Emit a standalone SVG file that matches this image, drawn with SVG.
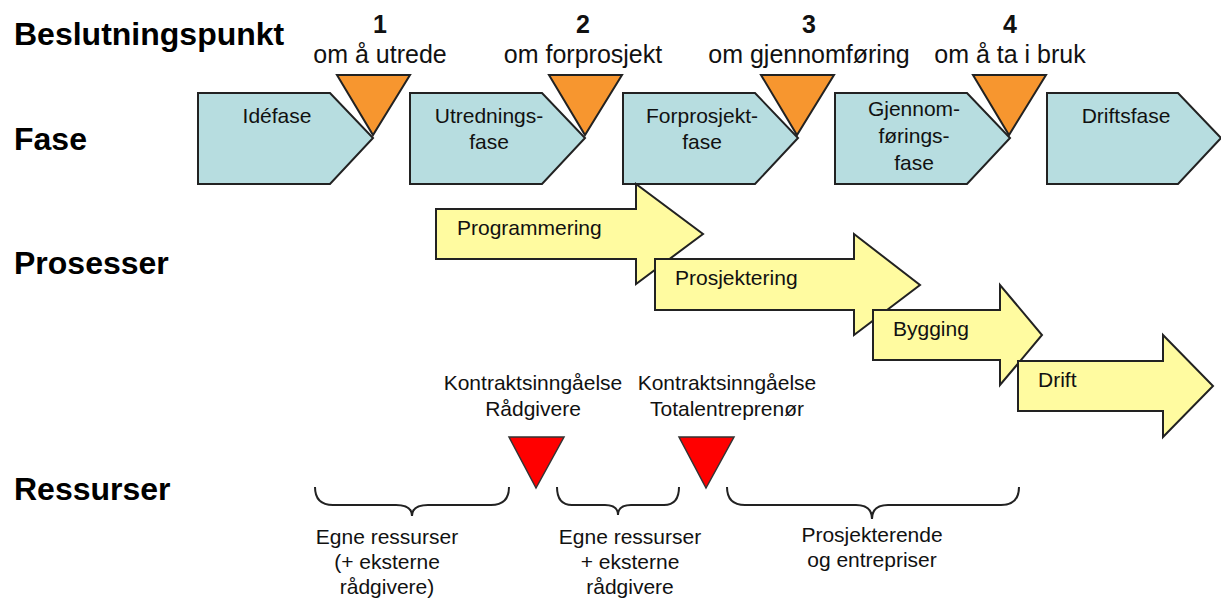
<svg xmlns="http://www.w3.org/2000/svg" width="1221" height="600" viewBox="0 0 1221 600">
<style>
.h{font-family:"Liberation Sans",Arial,sans-serif;font-weight:bold;font-size:32px;fill:#000}
.t{font-family:"Liberation Sans",Arial,sans-serif;font-size:21px;fill:#111}
.d{font-family:"Liberation Sans",Arial,sans-serif;font-size:25px;fill:#111}
.n{font-family:"Liberation Sans",Arial,sans-serif;font-weight:bold;font-size:25px;fill:#111}
.ph{fill:#b7dde0;stroke:#222;stroke-width:2}
.or{fill:#f7962f;stroke:#222;stroke-width:2}
.ar{fill:#fffba0;stroke:#222;stroke-width:2}
.rd{fill:#ff0000;stroke:#333;stroke-width:1.5}
.br{fill:none;stroke:#222;stroke-width:2}
</style>
<rect width="1221" height="600" fill="#fff"/>
<g id="labels">
<text class="h" x="14" y="45">Beslutningspunkt</text>
<text class="h" x="14" y="150">Fase</text>
<text class="h" x="14" y="274">Prosesser</text>
<text class="h" x="14" y="500">Ressurser</text>
</g>
<g id="decisions" text-anchor="middle">
<text class="n" x="380" y="33">1</text><text class="d" x="380" y="63">om å utrede</text>
<text class="n" x="583" y="33">2</text><text class="d" x="583" y="63">om forprosjekt</text>
<text class="n" x="809" y="33">3</text><text class="d" x="809" y="63">om gjennomføring</text>
<text class="n" x="1010" y="33">4</text><text class="d" x="1010" y="63">om å ta i bruk</text>
</g>
<g id="phase-ide"><path class="ph" d="M198,93H330L373,138L330,184H198Z"/><text class="t" x="277" y="123" text-anchor="middle">Idéfase</text></g>
<g id="phase-utredning"><path class="ph" d="M410,93H542L585,138L542,184H410Z"/><text class="t" x="489" y="123" text-anchor="middle">Utrednings-</text><text class="t" x="489" y="149" text-anchor="middle">fase</text></g>
<g id="phase-forprosjekt"><path class="ph" d="M623,93H755L798,138L755,184H623Z"/><text class="t" x="702" y="123" text-anchor="middle">Forprosjekt-</text><text class="t" x="702" y="149" text-anchor="middle">fase</text></g>
<g id="phase-gjennomforing"><path class="ph" d="M835,93H967L1010,138L967,184H835Z"/><text class="t" x="914" y="116" text-anchor="middle">Gjennom-</text><text class="t" x="914" y="143" text-anchor="middle">førings-</text><text class="t" x="914" y="170" text-anchor="middle">fase</text></g>
<g id="phase-drift"><path class="ph" d="M1047,93H1178L1221,138L1178,184H1047Z"/><text class="t" x="1126" y="123" text-anchor="middle">Driftsfase</text></g>
<g id="dp1"><path class="or" d="M337,75H410L373,135Z"/></g>
<g id="dp2"><path class="or" d="M549,75H622L585,135Z"/></g>
<g id="dp3"><path class="or" d="M761,75H834L797,135Z"/></g>
<g id="dp4"><path class="or" d="M973,75H1046L1009,135Z"/></g>
<g id="proc-programmering"><path class="ar" d="M436,209H636V184L703,234L636,284V259H436Z"/><text class="t" x="457" y="235">Programmering</text></g>
<g id="proc-prosjektering"><path class="ar" d="M655,259H854V234L920,285L854,335V310H655Z"/><text class="t" x="675" y="285">Prosjektering</text></g>
<g id="proc-bygging"><path class="ar" d="M873,310H1000V285L1042,335L1000,385V360H873Z"/><text class="t" x="893" y="336">Bygging</text></g>
<g id="proc-drift"><path class="ar" d="M1018,361H1163V335L1213,386L1163,437V411H1018Z"/><text class="t" x="1038" y="387">Drift</text></g>
<g id="contract-radgivere"><path class="rd" d="M509,437H564L536,488Z"/><text class="t" x="533" y="390" text-anchor="middle">Kontraktsinngåelse</text><text class="t" x="533" y="416" text-anchor="middle">Rådgivere</text></g>
<g id="contract-total"><path class="rd" d="M679,437H734L706,488Z"/><text class="t" x="727" y="390" text-anchor="middle">Kontraktsinngåelse</text><text class="t" x="727" y="416" text-anchor="middle">Totalentreprenør</text></g>
<g id="connectors">
<path class="br" d="M315,487Q315,505 333,505H396Q412,505 412,516Q412,505 428,505H491Q509,505 509,487"/>
<path class="br" d="M557,487Q557,505 572,505H605Q618,505 618,515Q618,505 631,505H664Q679,505 679,487"/>
<path class="br" d="M727,487Q727,505 745,505H856Q872,505 872,519Q872,505 888,505H1001Q1019,505 1019,487"/>
</g>
<g id="res-egne" text-anchor="middle"><text class="t" x="387" y="544">Egne ressurser</text><text class="t" x="387" y="569">(+ eksterne</text><text class="t" x="387" y="594">rådgivere)</text></g>
<g id="res-egne-eksterne" text-anchor="middle"><text class="t" x="630" y="544">Egne ressurser</text><text class="t" x="630" y="569">+ eksterne</text><text class="t" x="630" y="594">rådgivere</text></g>
<g id="res-prosjekterende" text-anchor="middle"><text class="t" x="872" y="542">Prosjekterende</text><text class="t" x="872" y="567">og entrepriser</text></g>
</svg>
